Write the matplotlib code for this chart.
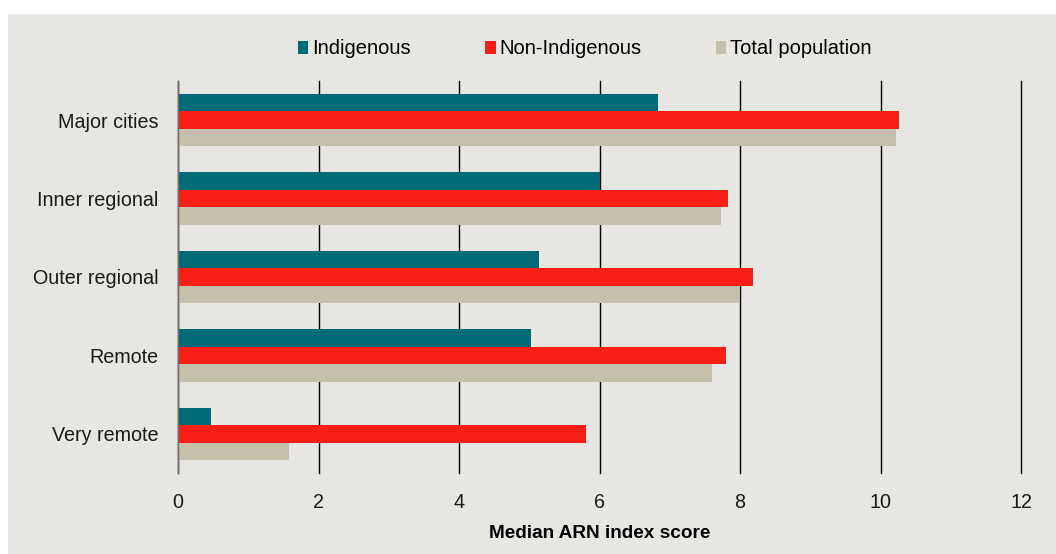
import matplotlib
matplotlib.use("Agg")
import matplotlib.pyplot as plt
from matplotlib.patches import Patch, Rectangle
from matplotlib import font_manager
import numpy as np

categories = ["Major cities", "Inner regional", "Outer regional", "Remote", "Very remote"]
indigenous = [6.83, 6.01, 5.14, 5.02, 0.47]
non_indigenous = [10.26, 7.83, 8.18, 7.80, 5.81]
total_population = [10.22, 7.73, 7.99, 7.60, 1.58]
series_names = ["Indigenous", "Non-Indigenous", "Total population"]
xticks = [0, 2, 4, 6, 8, 10, 12]
xlabel = "Median ARN index score"

colors = ["#006b77", "#f71f16", "#c5bfad"]
bg = "#e8e6e2"

names = {f.name for f in font_manager.fontManager.ttflist}
base_font = "Liberation Sans" if "Liberation Sans" in names else "DejaVu Sans"
plt.rcParams["font.family"] = [base_font, "DejaVu Sans"]

W, H = 1056, 554
fig = plt.figure(figsize=(W / 100, H / 100), dpi=100, facecolor="white")
fig.patches.append(Rectangle((8 / W, 0), 1 - 8 / W, 1 - 14 / H, transform=fig.transFigure,
                             facecolor=bg, edgecolor="none", zorder=-10))

ax = fig.add_axes([178 / W, 1 - 473 / H, (1021 - 178) / W, (473 - 81) / H])
ax.set_facecolor(bg)
ax.patch.set_alpha(0)

y = np.arange(len(categories))
h = 0.223
for i, (vals, c) in enumerate(zip([indigenous, non_indigenous, total_population], colors)):
    ax.barh(y + (i - 1) * h, vals, height=h, color=c, zorder=3, label=series_names[i])

ax.set_xlim(0, 12)
ax.set_ylim(len(categories) - 0.5, -0.5)
ax.set_xticks(xticks)
ax.set_xticklabels([str(t) for t in xticks])
ax.set_yticks(y)
ax.set_yticklabels(categories)
ax.grid(axis="x", color="black", lw=1.0, zorder=1)
for gl in ax.get_xgridlines():
    gl.set_clip_on(False)
ax.set_axisbelow(True)
for s in ["top", "right", "bottom"]:
    ax.spines[s].set_visible(False)
ax.spines["left"].set_color("#6e6e6e")
ax.spines["left"].set_linewidth(1.0)
ax.spines["left"].set_zorder(4)
ax.tick_params(axis="both", length=0, labelsize=14.2, colors="#1a1a1a")
ax.tick_params(axis="x", pad=14.5)
ax.tick_params(axis="y", pad=14)
ax.set_xlabel(xlabel, fontsize=13.7, fontweight="bold", labelpad=9, color="black")

handles = [Patch(facecolor=c, edgecolor="none") for c in colors]
fig.legend(handles, series_names, loc="center", bbox_to_anchor=(585 / W, 1 - 49 / H),
           ncol=3, frameon=False, handlelength=0.5, handleheight=0.62, handletextpad=0.2,
           columnspacing=3.7, prop={"size": 14.5})

fig.savefig("out.png", dpi=100, facecolor="white")
